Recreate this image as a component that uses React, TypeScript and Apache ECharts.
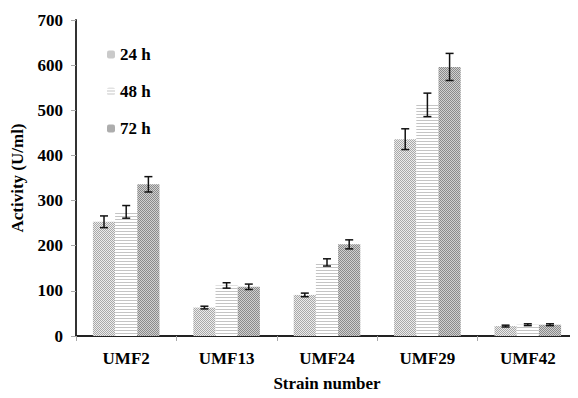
import React, { useEffect, useRef } from "react";
import * as echarts from "echarts";

const categories = ["UMF2", "UMF13", "UMF24", "UMF29", "UMF42"];
const seriesNames = ["24 h", "48 h", "72 h"];
const values24 = [253, 63, 91, 436, 22];
const values48 = [275, 112, 163, 512, 25];
const values72 = [336, 109, 203, 596, 25];
const err24 = [13, 3, 4, 23, 2];
const err48 = [14, 6, 8, 26, 2];
const err72 = [17, 6, 10, 30, 2];
const yTicks = [0, 100, 200, 300, 400, 500, 600, 700];

function makePattern(kind: number): HTMLCanvasElement {
  const c = document.createElement("canvas");
  const n = kind === 1 ? 3 : 4;
  c.width = n;
  c.height = n;
  const ctx = c.getContext("2d")!;
  if (kind === 0) {
    ctx.fillStyle = "#ececec";
    ctx.fillRect(0, 0, n, n);
    ctx.fillStyle = "#a8a8a8";
    for (let y = 0; y < n; y++) {
      for (let x = 0; x < n; x++) {
        if ((x + y) % 2 === 0) ctx.fillRect(x, y, 1, 1);
      }
    }
  } else if (kind === 1) {
    ctx.fillStyle = "#ffffff";
    ctx.fillRect(0, 0, n, n);
    ctx.fillStyle = "#c4c4c4";
    ctx.fillRect(0, 0, n, 1);
  } else {
    ctx.fillStyle = "#d0d0d0";
    ctx.fillRect(0, 0, n, n);
    ctx.fillStyle = "#8a8a8a";
    for (let y = 0; y < n; y++) {
      for (let x = 0; x < n; x++) {
        if ((x + y) % 2 === 0) ctx.fillRect(x, y, 1, 1);
      }
    }
  }
  return c;
}

const GAP = 0.337;
const FONT = "Liberation Serif";

export default function App() {
  const ref = useRef<HTMLDivElement>(null);
  useEffect(() => {
    if (!ref.current) return;
    const chart = echarts.init(ref.current, null, { renderer: "svg" });
    const vals = [values24, values48, values72];
    const errs = [err24, err48, err72];
    const errData: number[][] = [];
    vals.forEach((arr, s) => {
      arr.forEach((v, i) => {
        errData.push([i, s, v - errs[s][i], v + errs[s][i]]);
      });
    });
    const txt = { fontFamily: FONT, fontWeight: "bold" as const, fontSize: 17, color: "#000" };
    const barSeries = seriesNames.map((name, s) => ({
      name,
      type: "bar" as const,
      data: vals[s],
      barGap: "0%",
      barCategoryGap: GAP * 100 + "%",
      itemStyle: {
        color: { image: makePattern(s), repeat: "repeat" },
      },
    }));
    chart.setOption({
      animation: false,
      backgroundColor: "#ffffff",
      textStyle: { fontFamily: FONT },
      grid: { left: 76, top: 20, bottom: 62, right: -11 },
      legend: {
        orient: "vertical",
        left: 102,
        top: 41,
        itemWidth: 8,
        itemHeight: 8,
        itemGap: 20,
        data: seriesNames,
        textStyle: { ...txt },
      },
      xAxis: {
        type: "category",
        data: categories,
        name: "Strain number",
        nameLocation: "middle",
        nameGap: 39,
        nameTextStyle: { ...txt },
        axisLine: { lineStyle: { color: "#222", width: 2 } },
        axisTick: { show: true, length: 5, lineStyle: { color: "#aaa" } },
        axisLabel: { ...txt, margin: 14 },
      },
      yAxis: {
        type: "value",
        min: 0,
        max: 700,
        interval: 100,
        name: "Activity (U/ml)",
        nameLocation: "middle",
        nameGap: 50,
        nameTextStyle: { ...txt },
        axisLine: { show: true, lineStyle: { color: "#333", width: 2 } },
        axisTick: { show: true, length: 5, lineStyle: { color: "#aaa" } },
        axisLabel: {
          ...txt,
          margin: 13,
          formatter: (v: number) => (yTicks.includes(v) ? String(v) : ""),
        },
        splitLine: { show: false },
      },
      series: [
        ...barSeries,
        {
          type: "custom",
          name: "err",
          data: errData,
          z: 10,
          renderItem: (params: any, api: any) => {
            const cat = api.value(0);
            const s = api.value(1);
            const lo = api.coord([cat, api.value(2)]);
            const hi = api.coord([cat, api.value(3)]);
            const band = api.size([1, 0])[0];
            const bw = (band * (1 - GAP)) / 3;
            const x = lo[0] + (s - 1) * bw;
            const cap = 4;
            const style = { stroke: "#111", lineWidth: 1.5 };
            return {
              type: "group",
              children: [
                { type: "line", shape: { x1: x, y1: lo[1], x2: x, y2: hi[1] }, style },
                { type: "line", shape: { x1: x - cap, y1: lo[1], x2: x + cap, y2: lo[1] }, style },
                { type: "line", shape: { x1: x - cap, y1: hi[1], x2: x + cap, y2: hi[1] }, style },
              ],
            };
          },
        },
      ],
    });
    return () => chart.dispose();
  }, []);
  return <div ref={ref} style={{ width: 578, height: 398, margin: -8 }} />;
}
